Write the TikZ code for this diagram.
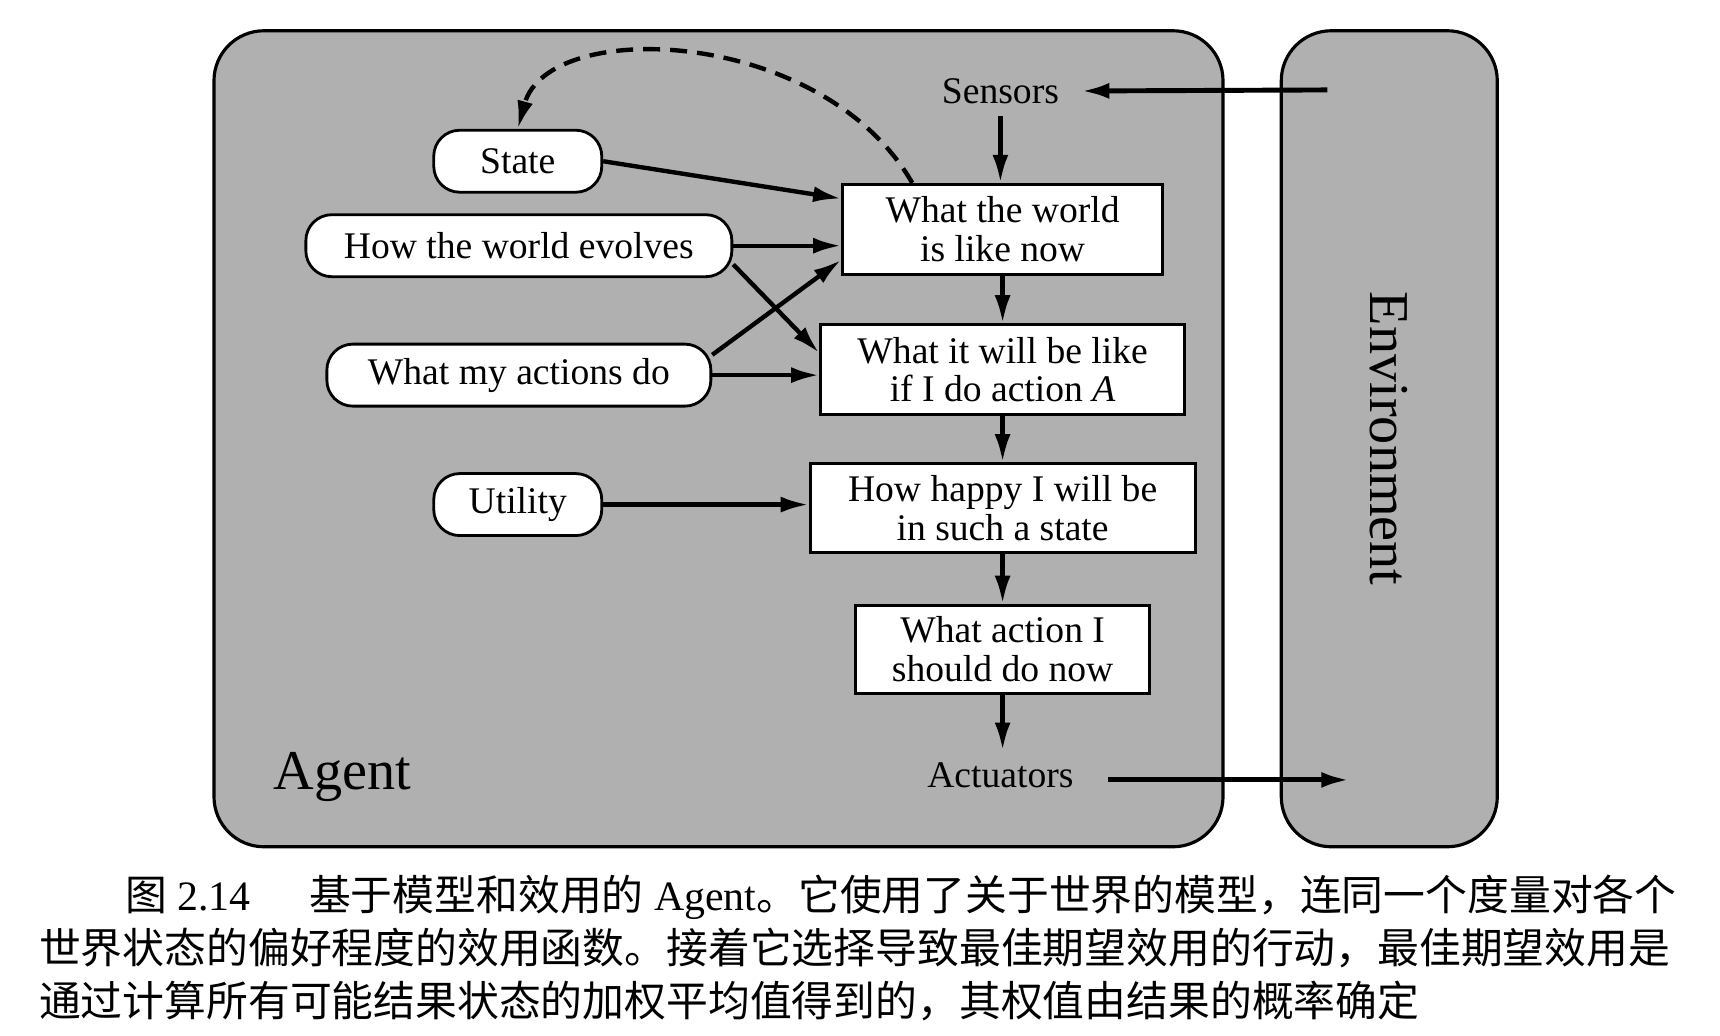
\documentclass[tikz,border=0pt]{standalone}
\usepackage{fontspec}
\setmainfont{Liberation Serif}
\newfontfamily\cjk{Noto Sans CJK SC}
\usetikzlibrary{arrows.meta,positioning,calc}
\definecolor{panel}{HTML}{B0B0B0}
\newcommand{\boxfont}{\fontsize{10.7}{11}\selectfont}
\newcommand{\bigfont}{\fontsize{16}{18}\selectfont}

\begin{document}
\begin{tikzpicture}[x=0.10969mm,y=-0.10969mm,>={Latex[length=2.8mm,width=1.6mm]},font=\boxfont,
  region/.style={draw,line width=0.9pt,fill=panel,rounded corners=5mm,minimum height=81.6mm},
  box/.style={draw,line width=0.8pt,fill=white,align=center,minimum height=9mm},
  pill/.style={draw,line width=0.8pt,fill=white,rounded corners=2.6mm,minimum height=6.2mm},
  flow/.style={->,line width=1.25pt}]
\useasboundingbox (0,0) rectangle (1568,944);
% agent and environment
\node[region,minimum width=100.9mm] (agent) at (655,400) {};
\node[region,rotate=-90,minimum width=81.6mm,minimum height=21.6mm,font=\bigfont] (env) at (1266.5,400) {Environment};
\node[font=\bigfont] (agentlbl) at (312,708) {Agent};
% right column
\node (sensors) at (912,83) {Sensors};
\node[box,minimum width=32mm] (wnow) at (914,209) {What the world\\is like now};
\node[box,minimum width=36.4mm] (wnext) at (914,337) {What it will be like\\if I do action \textit{A}};
\node[box,minimum width=38.5mm,minimum height=8.6mm] (happy) at (914,463) {How happy I will be\\in such a state};
\node[box,minimum width=29.4mm,minimum height=8.7mm] (choose) at (914,592) {What action I\\should do now};
\node (actuators) at (912,707) {Actuators};
% left column
\node[pill,minimum width=16.8mm] (state) at (472,147) {State};
\node[pill,minimum width=42.6mm] (evolve) at (473,224) {How the world evolves};
\node[pill,minimum width=38.4mm] (actions) at (473,342) {What my actions do};
\node[pill,minimum width=16.8mm] (utility) at (472,460) {Utility};
\coordinate (envin) at (1210,82);
\coordinate (envout) at (1230,711);
% connectors
\draw[flow,line width=1.4pt,shorten >=1mm] (envin) -- (sensors.east);
\draw[flow] (sensors.south) -- (sensors.south |- wnow.north);
\draw[flow] (wnow.south) -- (wnext.north);
\draw[flow] (wnext.south) -- (happy.north);
\draw[flow] (happy.south) -- (choose.north);
\draw[flow] (choose.south) -- (choose.south |- actuators.north);
\draw[flow,line width=1.4pt,shorten <=2.2mm] (actuators.east |- envout) -- (envout);
\draw[flow] (state.east) -- ($(wnow.north west)!0.17!(wnow.south west)$);
\draw[flow] (evolve.east) -- (evolve.east -| wnow.west);
\draw[flow] (evolve.-5) -- ($(wnext.north west)!0.32!(wnext.south west)$);
\draw[flow] (actions.6) -- ($(wnow.north west)!0.83!(wnow.south west)$);
\draw[flow] (actions.east) -- (actions.east -| wnext.west);
\draw[flow] (utility.east) -- (utility.east -| happy.west);
\draw[flow,dash pattern=on 1.7mm off 1mm] ($(wnow.north west)!0.22!(wnow.north east)$) .. controls (750,25) and (500,15) .. (state.north);
% caption
\node[anchor=north west,align=left,inner sep=0pt,font=\fontsize{11.9}{15.1}\selectfont] (caption) at (35,797)
  {\hspace*{8.6mm}{\cjk 图} 2.14\hspace{1.4em}{\cjk 基于模型和效用的} Agent{\cjk 。它使用了关于世界的模型，连同一个度量对各个}\\
   {\cjk 世界状态的偏好程度的效用函数。接着它选择导致最佳期望效用的行动，最佳期望效用是}\\
   {\cjk 通过计算所有可能结果状态的加权平均值得到的，其权值由结果的概率确定}};
\end{tikzpicture}
\end{document}
